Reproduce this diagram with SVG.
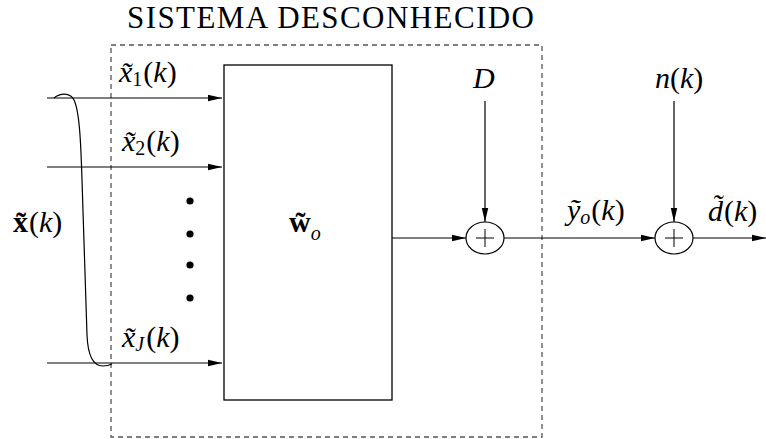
<svg xmlns="http://www.w3.org/2000/svg" width="766" height="439" viewBox="0 0 766 439">
<style>
text{font-family:"Liberation Serif","DejaVu Serif",serif;fill:#000}
.m{font-size:30px;font-style:italic}
.r{font-style:normal}
.s{font-size:20px}
.ln{stroke:#000;stroke-width:1.2;fill:none}
</style>
<defs>
<marker id="ah" markerWidth="14" markerHeight="8" refX="14" refY="4" orient="auto" markerUnits="userSpaceOnUse">
<path d="M0,0.8 L14,4 L0,7.2 Z" fill="#000"/>
</marker>
</defs>
<rect width="766" height="439" fill="#fff"/>
<g id="system-boundary">
<rect x="111" y="45" width="431" height="392" fill="none" stroke="#555" stroke-width="1.3" stroke-dasharray="5,4"/>
<text x="127" y="28" font-size="31" textLength="407" lengthAdjust="spacing">SISTEMA DESCONHECIDO</text>
</g>
<g id="block-w">
<rect x="224" y="65" width="168" height="335" fill="#fff" stroke="#000" stroke-width="1.3"/>
<text x="289" y="232" font-size="30" font-weight="bold">w̃<tspan class="s" font-weight="normal" font-style="italic" dy="8">o</tspan></text>
</g>
<g id="dots">
<circle cx="190" cy="201" r="3.6"/>
<circle cx="190" cy="234" r="3.6"/>
<circle cx="190" cy="265" r="3.6"/>
<circle cx="190" cy="298" r="3.6"/>
</g>
<g id="sum1">
<ellipse cx="485" cy="238" rx="19" ry="16" fill="#fff" stroke="#000" stroke-width="1.2"/>
<path d="M485,229 V247 M476,238 H494" stroke="#000" stroke-width="1"/>
</g>
<g id="sum2">
<ellipse cx="674" cy="238" rx="19" ry="16" fill="#fff" stroke="#000" stroke-width="1.2"/>
<path d="M674,229 V247 M665,238 H683" stroke="#000" stroke-width="1"/>
</g>
<g id="connectors">
<line class="ln" x1="47" y1="98" x2="222" y2="98" marker-end="url(#ah)"/>
<line class="ln" x1="47" y1="167" x2="222" y2="167" marker-end="url(#ah)"/>
<line class="ln" x1="47" y1="363" x2="222" y2="363" marker-end="url(#ah)"/>
<path class="ln" d="M54,98 C60,93 70,92 74,100 C80,112 81,150 82,180 L87,335 C88,360 95,366 103,366 C108,366 110,365 112,364"/>
<line class="ln" x1="392" y1="238" x2="466" y2="238" marker-end="url(#ah)"/>
<line class="ln" x1="485" y1="101" x2="485" y2="222" marker-end="url(#ah)"/>
<line class="ln" x1="504" y1="238" x2="655" y2="238" marker-end="url(#ah)"/>
<line class="ln" x1="674" y1="101" x2="674" y2="222" marker-end="url(#ah)"/>
<line class="ln" x1="693" y1="238" x2="766" y2="238" marker-end="url(#ah)"/>
</g>
<g id="labels">
<text class="m" x="119" y="82">x̃<tspan class="s r" dy="4">1</tspan><tspan class="r" dy="-4" dx="1">(</tspan>k<tspan class="r">)</tspan></text>
<text class="m" x="122" y="151">x̃<tspan class="s r" dy="4">2</tspan><tspan class="r" dy="-4" dx="1">(</tspan>k<tspan class="r">)</tspan></text>
<text class="m" x="122" y="347">x̃<tspan class="s" dy="4">J</tspan><tspan class="r" dy="-4" dx="2">(</tspan>k<tspan class="r">)</tspan></text>
<text class="m" x="13" y="232"><tspan class="r" font-weight="bold">x̃</tspan><tspan class="r" dx="1">(</tspan>k<tspan class="r">)</tspan></text>
<text class="m" x="473" y="88">D</text>
<text class="m" x="655" y="88">n<tspan class="r">(</tspan>k<tspan class="r">)</tspan></text>
<text class="m" x="567" y="220">ỹ<tspan class="s" dy="4">o</tspan><tspan class="r" dy="-4" dx="1">(</tspan>k<tspan class="r">)</tspan></text>
<text class="m" x="708" y="221">d̃<tspan class="r" dx="1">(</tspan>k<tspan class="r">)</tspan></text>
</g>
</svg>
